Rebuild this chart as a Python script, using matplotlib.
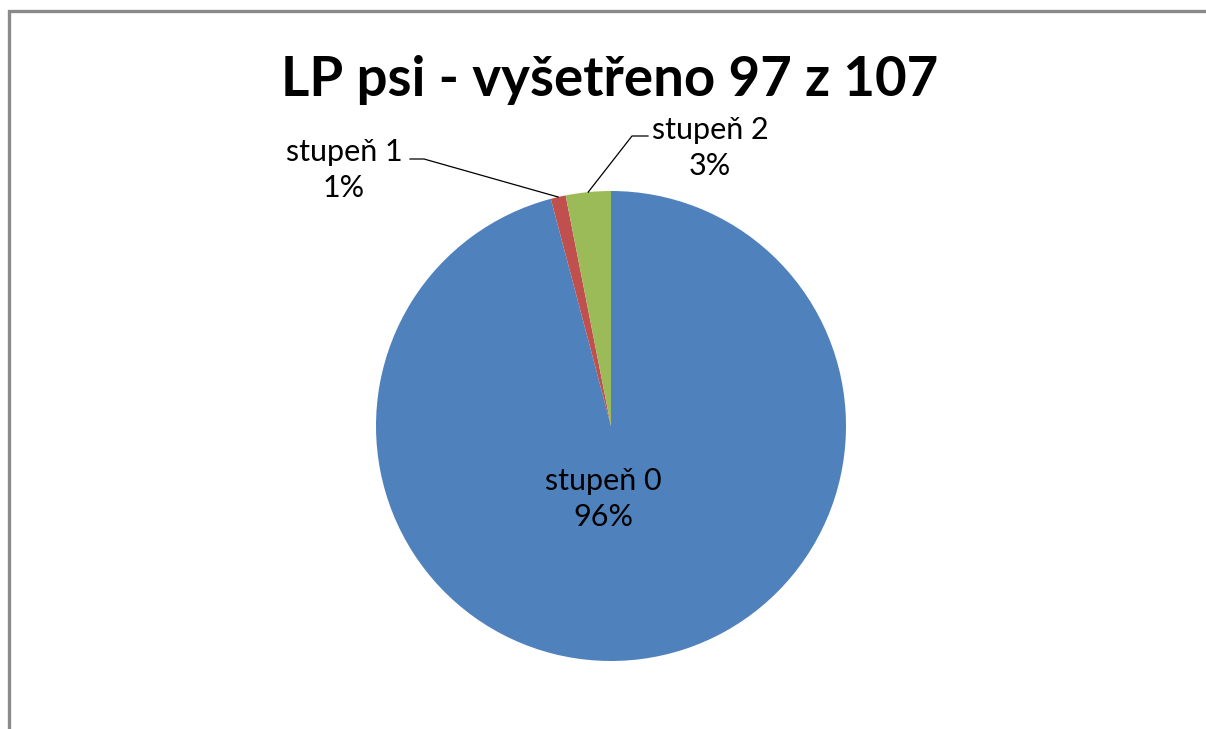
import numpy as np
import matplotlib
matplotlib.use("Agg")
import matplotlib.pyplot as plt
from matplotlib.patches import Rectangle

plt.rcParams['font.family'] = ['Lato', 'DejaVu Sans']

title = "LP psi - vyšetřeno 97 z 107"
categories = ["stupeň 0", "stupeň 1", "stupeň 2"]
counts = [93, 1, 3]
percent_labels = ["96%", "1%", "3%"]
colors = ["#4F81BD", "#C0504D", "#9BBB59"]

W, H = 1206, 729
fig = plt.figure(figsize=(W / 100, H / 100), dpi=100)
fig.patch.set_facecolor("white")

# outer border (chart area frame)
fig.patches.append(Rectangle((8.5 / W, -0.1), 1.2, 1 - 11.5 / H + 0.1,
                             transform=fig.transFigure, fill=False,
                             edgecolor="#8a8a8a", linewidth=2.4))

cx, cy, r = 611, 426, 235
ax = fig.add_axes([(cx - r) / W, (H - cy - r) / H, 2 * r / W, 2 * r / H])
ax.set_aspect("equal")
ax.axis("off")

wedges, _ = ax.pie(counts, colors=colors, startangle=90, counterclock=False,
                   radius=1, center=(0, 0),
                   wedgeprops=dict(edgecolor="none", linewidth=0))
ax.set_xlim(-1, 1)
ax.set_ylim(-1, 1)

fig.text(610 / W, 1 - 96 / H, title, ha="center", va="baseline",
         fontsize=39.3, fontweight="bold", color="black")

fs = 22
ls = 1.38

def px2data(x, y):
    return (x - cx) / r, -(y - cy) / r

# label for stupeň 0 inside
tx, ty = px2data(603.5, 499)
ax.text(tx, ty, f"{categories[0]}\n{percent_labels[0]}", ha="center",
        va="center", fontsize=fs, color="black", linespacing=ls)

total = sum(counts)
cum = np.cumsum([0] + counts)
def mid_point(i):
    a = np.deg2rad(360 * (cum[i] + cum[i + 1]) / 2 / total)
    return np.sin(a), np.cos(a)

# stupeň 1 label with leader line
p = mid_point(1)
e = px2data(424, 159)
s = px2data(410, 159)
ax.plot([p[0], e[0], s[0]], [p[1], e[1], s[1]], color="black", lw=0.9,
        clip_on=False)
tx, ty = px2data(344, 170)
ax.text(tx, ty, f"{categories[1]}\n{percent_labels[1]}", ha="center",
        va="center", fontsize=fs, color="black", linespacing=ls)

# stupeň 2 label with leader line
p = mid_point(2)
e = px2data(632, 136)
s = px2data(648, 136)
ax.plot([p[0], e[0], s[0]], [p[1], e[1], s[1]], color="black", lw=0.9,
        clip_on=False)
tx, ty = px2data(710, 148)
ax.text(tx, ty, f"{categories[2]}\n{percent_labels[2]}", ha="center",
        va="center", fontsize=fs, color="black", linespacing=ls)

fig.savefig("out.png", dpi=100, facecolor="white")
